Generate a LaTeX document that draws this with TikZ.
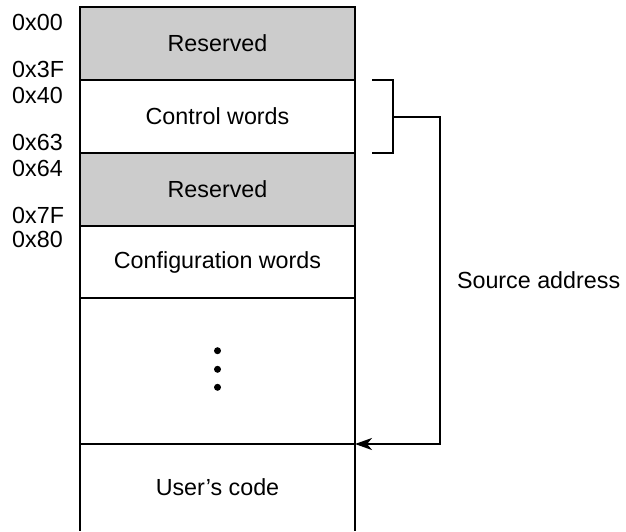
\documentclass[tikz,border=0pt]{standalone}
\usepackage{fontspec}
\setmainfont{Liberation Sans}
\usetikzlibrary{arrows.meta,positioning}
\colorlet{d}{black!20}
\colorlet{l}{black!0}
\tikzset{seg/.style={rectangle, draw=black, line width=2pt, outer sep=0pt,
            fill=#1, minimum width=275pt, inner sep=0pt},
         addr/.style={anchor=west, inner sep=0pt}}

\begin{document}
\begin{tikzpicture}[x=1pt, y=-1pt, >={Stealth[length=17pt,width=12pt,inset=5pt]},
                    font=\fontsize{23.3}{28}\selectfont]
\useasboundingbox (0,0) rectangle (626,531);
\node[seg=d, minimum height=73pt, anchor=north] (res1) at (217.5,7) {Reserved};
\node[seg=l, minimum height=73pt, below=0pt of res1] (ctrl) {Control words};
\node[seg=d, minimum height=73pt, below=0pt of ctrl] (res2) {Reserved};
\node[seg=l, minimum height=72pt, below=0pt of res2] (cfg) {Configuration words};
\node[seg=l, minimum height=146pt, below=0pt of cfg] (gap) {};
\node[seg=none, draw=none, minimum height=87pt, below=0pt of gap] (user) {User’s code};
\draw[line width=2pt] (user.north west) -- (user.south west)
                      (user.north east) -- (user.south east);
% dots
\foreach \dy in {20.3,1.7,-16.3}
  \fill ([yshift=\dy pt]gap.center) circle (3.5pt);
% addresses
\foreach \s/\t/\b in {res1/0x00/0x3F, ctrl/0x40/0x63, res2/0x64/0x7F}{
  \node[addr] (top-\s) at ([xshift=-68pt,yshift=-15pt]\s.north west) {\t};
  \node[addr] (bot-\s) at ([xshift=-68pt,yshift=11pt]\s.south west) {\b};
}
\node[addr] (top-cfg) at ([xshift=-68pt,yshift=-13pt]cfg.north west) {0x80};
% bracket and arrow
\draw[line width=2pt] ([xshift=17pt]ctrl.north east) -| ([xshift=38pt]ctrl.south east)
                      -- ([xshift=17pt]ctrl.south east);
\coordinate (brk) at ([xshift=38pt]ctrl.east);
\draw[->, line width=2pt] (brk) -- ++(47,0) |- node[pos=0.25, right=16pt, inner sep=0pt] (src)
      {Source address} (user.north east);
\end{tikzpicture}
\end{document}
